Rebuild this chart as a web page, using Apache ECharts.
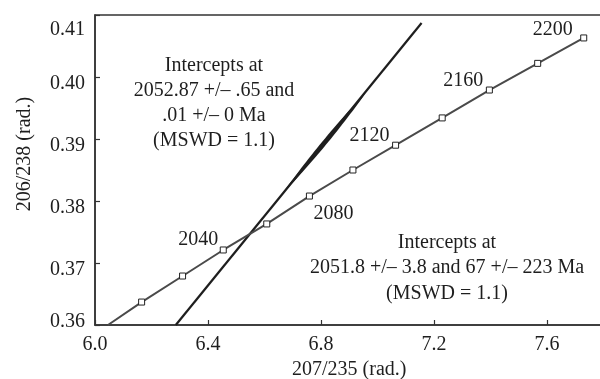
<!DOCTYPE html>
<html>
<head>
<meta charset="utf-8">
<script src="https://cdn.jsdelivr.net/npm/echarts@6/dist/echarts.min.js"></script>
<style>
  html, body { margin: 0; padding: 0; background: #fff; }
  #chart { width: 600px; height: 379px; }
</style>
</head>
<body>
<div id="chart"></div>
<script>
// Concordia ages (Ma) with their 207/235 and 206/238 ratios
const ages = [2000, 2020, 2040, 2060, 2080, 2100, 2120, 2140, 2160, 2180, 2200];
const concordiaX = [6.165, 6.310, 6.454, 6.608, 6.759, 6.913, 7.064, 7.229, 7.396, 7.567, 7.730];
const concordiaY = [0.3637, 0.3679, 0.3721, 0.3763, 0.3808, 0.3850, 0.3890, 0.3934, 0.3979, 0.4022, 0.4063];
// where the curve leaves the plot at the bottom
const concordiaTail = [6.046, 0.36];
const labelledAges = [2040, 2080, 2120, 2160, 2200];

// discordia line end points
const discordiaX = [6.286, 7.156];
const discordiaY = [0.36, 0.4087];
// stretch of the discordia with the widest error envelope
const envelopeX = [6.6655, 6.9575];
const envelopeY = [0.3813, 0.3974];

// axis ticks
const xTickValues = [6.0, 6.4, 6.8, 7.2, 7.6];
const xTickLabels = ['6.0', '6.4', '6.8', '7.2', '7.6'];
const yTickValues = [0.36, 0.37, 0.38, 0.39, 0.40, 0.41];
const yTickLabels = ['0.36', '0.37', '0.38', '0.39', '0.40', '0.41'];

const upperNote = ['Intercepts at', '2052.87 +/\u2013 .65 and', '.01 +/\u2013 0 Ma', '(MSWD = 1.1)'];
const lowerNote = ['Intercepts at', '2051.8 +/\u2013 3.8 and 67 +/\u2013 223 Ma', '(MSWD = 1.1)'];

const FONT = '"Liberation Serif", "DejaVu Serif", serif';
const INK = '#1e1e1e';

// label offsets (px) for the age labels along the curve
const ageLabelOffset = {
  2040: [-25, -10],
  2080: [24, 18],
  2120: [-26, -9],
  2160: [-26, -9],
  2200: [-31, -8]
};

function tickLabel(values, labels, v) {
  for (let i = 0; i < values.length; i++) {
    if (Math.abs(values[i] - v) < 1e-6) return labels[i];
  }
  return '';
}

const concordiaData = [{ value: concordiaTail, symbol: 'none' }].concat(
  ages.map((a, i) => {
    const item = { value: [concordiaX[i], concordiaY[i]] };
    if (labelledAges.indexOf(a) >= 0) {
      item.label = {
        show: true,
        position: 'inside',
        offset: ageLabelOffset[a],
        formatter: String(a),
        fontFamily: FONT,
        fontSize: 20,
        color: INK
      };
    }
    return item;
  })
);

const chart = echarts.init(document.getElementById('chart'), null, { renderer: 'canvas' });

const labelRich = (pad) => ({ fontFamily: FONT, fontSize: 20, color: INK, padding: pad });

chart.setOption({
  animation: false,
  backgroundColor: '#fff',
  grid: {
    left: 95, right: -3.5, top: 15, bottom: 54,
    outerBoundsMode: 'none', containLabel: false,
    show: true, borderColor: '#333', borderWidth: 1.5, backgroundColor: 'transparent'
  },
  xAxis: {
    type: 'value', min: 6.0, max: 7.8, interval: 0.4,
    name: '207/235 (rad.)', nameLocation: 'middle', nameGap: 35,
    nameTextStyle: { fontFamily: FONT, fontSize: 20, color: INK },
    axisLine: { lineStyle: { color: '#333', width: 1.5 } },
    axisTick: { inside: true, length: 5, lineStyle: { color: '#333', width: 1.2 } },
    axisLabel: {
      margin: 10, fontFamily: FONT, fontSize: 20, color: INK, showMaxLabel: false,
      formatter: v => tickLabel(xTickValues, xTickLabels, v)
    },
    splitLine: { show: false }
  },
  yAxis: {
    type: 'value', min: 0.36, max: 0.41, interval: 0.01,
    name: '206/238 (rad.)', nameLocation: 'middle', nameGap: 60,
    nameTextStyle: { fontFamily: FONT, fontSize: 20, color: INK, padding: [0, 0, 0, 32] },
    axisLine: { lineStyle: { color: '#333', width: 1.5 } },
    axisTick: { inside: true, length: 5, lineStyle: { color: '#333', width: 1.2 } },
    axisLabel: {
      margin: 10, fontFamily: FONT, fontSize: 20, color: INK,
      formatter: v => {
        const s = tickLabel(yTickValues, yTickLabels, v);
        if (Math.abs(v - 0.41) < 1e-6) return '{top|' + s + '}';
        if (Math.abs(v - 0.36) < 1e-6) return '{bot|' + s + '}';
        return '{mid|' + s + '}';
      },
      rich: {
        top: labelRich([30, 0, 0, 0]),
        mid: labelRich([14, 0, 0, 0]),
        bot: labelRich([0, 0, 6, 0])
      }
    },
    splitLine: { show: false }
  },
  series: [
    {
      name: 'discordia',
      type: 'line',
      data: discordiaX.map((x, i) => [x, discordiaY[i]]),
      symbol: 'none',
      lineStyle: { color: INK, width: 2.2 },
      z: 2
    },
    {
      name: 'envelope',
      type: 'custom',
      data: [[envelopeX[0], envelopeY[0]]],
      z: 2,
      renderItem: (params, api) => {
        const p0 = api.coord([envelopeX[0], envelopeY[0]]);
        const p1 = api.coord([envelopeX[1], envelopeY[1]]);
        const dx = p1[0] - p0[0], dy = p1[1] - p0[1];
        const len = Math.hypot(dx, dy);
        const nx = -dy / len, ny = dx / len;
        const n = 30, maxHalf = 2.4;
        const a = [], b = [];
        for (let i = 0; i <= n; i++) {
          const t = i / n;
          const w = maxHalf * Math.pow(Math.sin(Math.PI * t), 0.8);
          const cx = p0[0] + dx * t, cy = p0[1] + dy * t;
          a.push([cx + nx * w, cy + ny * w]);
          b.unshift([cx - nx * w, cy - ny * w]);
        }
        return { type: 'polygon', shape: { points: a.concat(b) }, style: { fill: INK } };
      }
    },
    {
      name: 'concordia',
      type: 'line',
      data: concordiaData,
      symbol: 'rect',
      symbolSize: 6,
      showAllSymbol: true,
      itemStyle: { color: '#fff', borderColor: '#222', borderWidth: 1 },
      lineStyle: { color: '#4a4a4a', width: 2 },
      label: { show: false },
      z: 3
    }
  ],
  graphic: [
    {
      type: 'text', x: 214, y: 103,
      style: {
        text: upperNote.join('\n'), align: 'center', verticalAlign: 'middle',
        font: '20px ' + FONT, lineHeight: 25, fill: INK
      }
    },
    {
      type: 'text', x: 447, y: 268,
      style: {
        text: lowerNote.join('\n'), align: 'center', verticalAlign: 'middle',
        font: '20px ' + FONT, lineHeight: 25.5, fill: INK
      }
    }
  ]
});
</script>
</body>
</html>
